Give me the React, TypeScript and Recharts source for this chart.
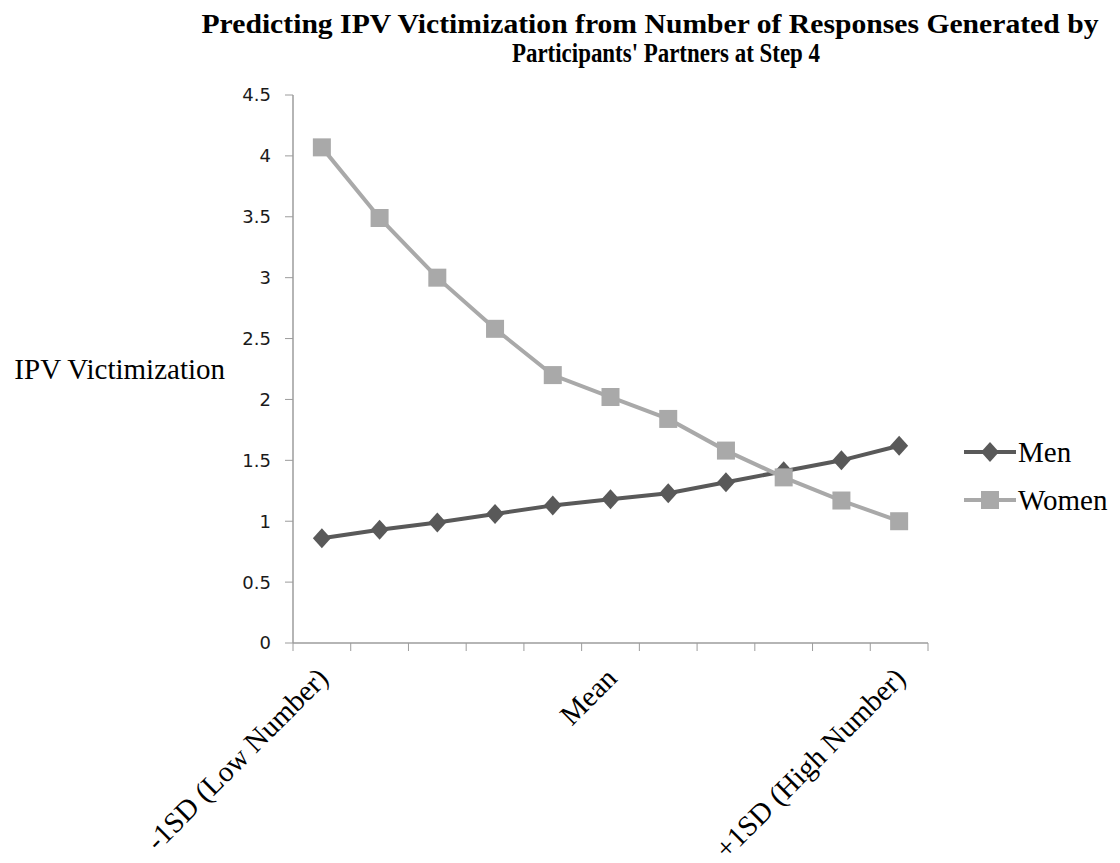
import React from "react";
import { LineChart, Line, XAxis, YAxis } from "recharts";

// categories along the x axis (only three carry a printed label)
const categories = [
  "-1SD (Low Number)",
  "",
  "",
  "",
  "",
  "Mean",
  "",
  "",
  "",
  "",
  "+1SD (High Number)",
];
const menValues = [0.86, 0.93, 0.99, 1.06, 1.13, 1.18, 1.23, 1.32, 1.41, 1.5, 1.62];
const womenValues = [4.07, 3.49, 3.0, 2.58, 2.2, 2.02, 1.84, 1.58, 1.36, 1.17, 1.0];
const yTicks = [0, 0.5, 1, 1.5, 2, 2.5, 3, 3.5, 4, 4.5];
const titleLines = [
  "Predicting IPV Victimization  from Number of Responses Generated by",
  "Participants' Partners at Step 4",
];
const seriesNames = ["Men", "Women"];

const MEN = "#595959";
const WOMEN = "#a9a9a9";
const AXIS = "#9c9c9c";
const serif = "'Liberation Serif', 'Times New Roman', serif";

// each category sits in the middle of its slot, ticks go on the slot edges
const data = categories.map((name, i) => ({
  pos: i + 0.5,
  name,
  men: menValues[i],
  women: womenValues[i],
}));
const edgeTicks = [...categories.map((_, i) => i), categories.length];
const labelTicks = data.filter((d) => d.name).map((d) => d.pos);

const EmptyTick = () => <g />;

const CategoryTick = (props: any) => {
  const { x, y, payload } = props;
  const name = categories[Math.round(payload.value - 0.5)];
  const px = x + 8;
  const py = y + 27;
  return (
    <text
      x={px}
      y={py}
      transform={`rotate(-45 ${px} ${py})`}
      textAnchor="end"
      fontFamily={serif}
      fontSize={29}
      fill="#000"
    >
      {name}
    </text>
  );
};

const Diamond = (props: any) => {
  const { cx, cy } = props;
  if (cx == null || cy == null) return null;
  return (
    <polygon
      points={`${cx},${cy - 10} ${cx + 9},${cy} ${cx},${cy + 10} ${cx - 9},${cy}`}
      fill={MEN}
    />
  );
};

const Square = (props: any) => {
  const { cx, cy } = props;
  if (cx == null || cy == null) return null;
  return <rect x={cx - 9} y={cy - 9} width={18} height={18} fill={WOMEN} />;
};

const ChartLegend = () => {
  const items = [
    { label: seriesNames[0], color: MEN, shape: "diamond" },
    { label: seriesNames[1], color: WOMEN, shape: "square" },
  ];
  return (
    <div style={{ position: "absolute", left: 962, top: 428 }}>
      {items.map((it) => (
        <div
          key={it.label}
          style={{ display: "flex", alignItems: "center", height: 48 }}
        >
          <svg width={56} height={24}>
            <line x1={2} y1={12} x2={54} y2={12} stroke={it.color} strokeWidth={4} />
            {it.shape === "diamond" ? (
              <polygon points="28,2 37,12 28,22 19,12" fill={it.color} />
            ) : (
              <rect x={19} y={3} width={18} height={18} fill={it.color} />
            )}
          </svg>
          <span style={{ fontFamily: serif, fontSize: 29, color: "#000" }}>
            {it.label}
          </span>
        </div>
      ))}
    </div>
  );
};

export default function App() {
  return (
    <div style={{ position: "absolute", left: 0, top: 0, width: 1120, height: 863, background: "#fff" }}>
      <svg
        width={1120}
        height={80}
        style={{ position: "absolute", left: 0, top: 0 }}
      >
        <text
          x={650}
          y={33}
          textAnchor="middle"
          fontFamily={serif}
          fontWeight="bold"
          fontSize={28}
          textLength={897}
          lengthAdjust="spacingAndGlyphs"
        >
          {titleLines[0]}
        </text>
        <text
          x={666}
          y={62}
          textAnchor="middle"
          fontFamily={serif}
          fontWeight="bold"
          fontSize={28}
          textLength={308}
          lengthAdjust="spacingAndGlyphs"
        >
          {titleLines[1]}
        </text>
      </svg>
      <LineChart
        width={1120}
        height={863}
        data={data}
        margin={{ top: 95, right: 192, left: 233, bottom: 10 }}
      >
        <XAxis
          xAxisId="edges"
          type="number"
          dataKey="pos"
          domain={[0, categories.length]}
          ticks={edgeTicks}
          interval={0}
          tick={<EmptyTick />}
          tickSize={8}
          tickLine={{ stroke: AXIS }}
          axisLine={{ stroke: AXIS, strokeWidth: 1.5 }}
          height={10}
        />
        <XAxis
          xAxisId="labels"
          type="number"
          dataKey="pos"
          domain={[0, categories.length]}
          ticks={labelTicks}
          interval={0}
          tick={<CategoryTick />}
          tickSize={0}
          tickMargin={0}
          tickLine={false}
          axisLine={false}
          height={200}
        />
        <YAxis
          domain={[0, 4.5]}
          ticks={yTicks}
          interval={0}
          width={60}
          tickSize={8}
          tickMargin={14}
          tickLine={{ stroke: AXIS }}
          axisLine={{ stroke: AXIS, strokeWidth: 1.5 }}
          tick={{ fontFamily: "'DejaVu Sans', sans-serif", fontSize: 18, fill: "#1a1a1a" }}
          label={{
            value: "IPV Victimization",
            position: "left",
            offset: 8,
            fontFamily: serif,
            fontSize: 29,
            fill: "#000",
          }}
        />
        <Line
          xAxisId="edges"
          dataKey="men"
          name={seriesNames[0]}
          stroke={MEN}
          strokeWidth={4}
          dot={<Diamond />}
          activeDot={false}
          isAnimationActive={false}
        />
        <Line
          xAxisId="edges"
          dataKey="women"
          name={seriesNames[1]}
          stroke={WOMEN}
          strokeWidth={4}
          dot={<Square />}
          activeDot={false}
          isAnimationActive={false}
        />
      </LineChart>
      <ChartLegend />
    </div>
  );
}
